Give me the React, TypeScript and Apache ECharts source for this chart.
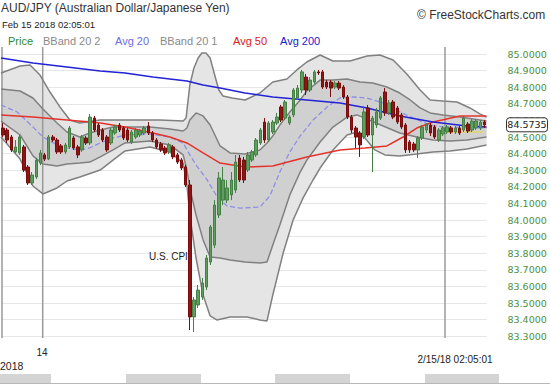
import React, { useEffect, useRef } from "react";
import * as echarts from "echarts";

// OHLC candles: [open, close, low, high]
const candles: number[][] = [
  [84.554, 84.512, 84.5, 84.584], [84.542, 84.482, 84.464, 84.554], [84.5, 84.422, 84.41, 84.512],
  [84.41, 84.44, 84.404, 84.482], [84.404, 84.5, 84.392, 84.512], [84.44, 84.301, 84.289, 84.452],
  [84.319, 84.223, 84.211, 84.331], [84.223, 84.271, 84.211, 84.289], [84.259, 84.361, 84.247, 84.373],
  [84.343, 84.404, 84.331, 84.422], [84.392, 84.367, 84.355, 84.404], [84.367, 84.5, 84.361, 84.512],
  [84.5, 84.482, 84.47, 84.512], [84.482, 84.41, 84.398, 84.494], [84.446, 84.41, 84.398, 84.458],
  [84.41, 84.452, 84.398, 84.464], [84.44, 84.554, 84.428, 84.566], [84.494, 84.434, 84.422, 84.506],
  [84.44, 84.392, 84.373, 84.452], [84.422, 84.5, 84.41, 84.512], [84.494, 84.464, 84.452, 84.506],
  [84.464, 84.62, 84.452, 84.639], [84.614, 84.542, 84.53, 84.627], [84.572, 84.512, 84.5, 84.584],
  [84.542, 84.482, 84.47, 84.554], [84.5, 84.422, 84.41, 84.512], [84.464, 84.542, 84.452, 84.554],
  [84.524, 84.56, 84.512, 84.572], [84.572, 84.542, 84.53, 84.584], [84.554, 84.494, 84.482, 84.566],
  [84.542, 84.482, 84.47, 84.554], [84.47, 84.53, 84.458, 84.542], [84.5, 84.542, 84.488, 84.554],
  [84.512, 84.536, 84.5, 84.548], [84.524, 84.554, 84.512, 84.566], [84.566, 84.524, 84.512, 84.59],
  [84.524, 84.482, 84.47, 84.536], [84.482, 84.44, 84.428, 84.494], [84.458, 84.422, 84.41, 84.47],
  [84.434, 84.404, 84.392, 84.446], [84.41, 84.452, 84.398, 84.464], [84.44, 84.38, 84.367, 84.452],
  [84.392, 84.349, 84.337, 84.404], [84.361, 84.313, 84.301, 84.373], [84.319, 84.211, 84.199, 84.331],
  [84.211, 83.416, 83.337, 84.241], [83.416, 83.518, 83.325, 83.536], [83.488, 83.578, 83.47, 83.608],
  [83.536, 83.62, 83.518, 83.651], [83.596, 83.771, 83.578, 83.789], [83.747, 83.958, 83.729, 83.97],
  [83.849, 84.09, 83.831, 84.12], [84.03, 84.253, 84.012, 84.289], [84.12, 84.241, 84.09, 84.319],
  [84.12, 84.193, 84.102, 84.241], [84.151, 84.241, 84.12, 84.289], [84.181, 84.349, 84.163, 84.392],
  [84.373, 84.241, 84.229, 84.392], [84.361, 84.241, 84.223, 84.38], [84.301, 84.392, 84.289, 84.41],
  [84.361, 84.41, 84.349, 84.422], [84.392, 84.482, 84.38, 84.494], [84.464, 84.542, 84.452, 84.554],
  [84.59, 84.482, 84.464, 84.614], [84.482, 84.584, 84.47, 84.596], [84.53, 84.59, 84.518, 84.602],
  [84.584, 84.62, 84.572, 84.645], [84.681, 84.602, 84.59, 84.693], [84.614, 84.711, 84.602, 84.723],
  [84.584, 84.62, 84.572, 84.633], [84.633, 84.783, 84.62, 84.795], [84.735, 84.795, 84.723, 84.813],
  [84.783, 84.892, 84.765, 84.904], [84.861, 84.783, 84.753, 84.88], [84.783, 84.843, 84.771, 84.861],
  [84.831, 84.892, 84.819, 84.904], [84.892, 84.886, 84.874, 84.904], [84.892, 84.801, 84.789, 84.904],
  [84.831, 84.801, 84.789, 84.843], [84.831, 84.795, 84.741, 84.843], [84.801, 84.825, 84.789, 84.837],
  [84.825, 84.795, 84.783, 84.837], [84.801, 84.741, 84.729, 84.813], [84.741, 84.62, 84.608, 84.753],
  [84.62, 84.542, 84.524, 84.633], [84.554, 84.5, 84.434, 84.566], [84.524, 84.452, 84.38, 84.536],
  [84.5, 84.651, 84.488, 84.687], [84.675, 84.512, 84.5, 84.693], [84.512, 84.614, 84.289, 84.627],
  [84.572, 84.651, 84.554, 84.675], [84.614, 84.735, 84.602, 84.747], [84.771, 84.645, 84.627, 84.795],
  [84.645, 84.705, 84.633, 84.723], [84.711, 84.62, 84.608, 84.723], [84.675, 84.59, 84.578, 84.687],
  [84.633, 84.56, 84.548, 84.645], [84.572, 84.422, 84.404, 84.584], [84.47, 84.422, 84.404, 84.482],
  [84.458, 84.422, 84.41, 84.47], [84.422, 84.494, 84.373, 84.506], [84.494, 84.56, 84.482, 84.572],
  [84.542, 84.572, 84.524, 84.584], [84.572, 84.524, 84.506, 84.584], [84.56, 84.5, 84.488, 84.572],
  [84.482, 84.542, 84.47, 84.554], [84.518, 84.554, 84.506, 84.566], [84.53, 84.56, 84.518, 84.572],
  [84.554, 84.53, 84.518, 84.566], [84.53, 84.554, 84.518, 84.566], [84.554, 84.524, 84.512, 84.566],
  [84.542, 84.614, 84.53, 84.627], [84.578, 84.536, 84.524, 84.59], [84.542, 84.596, 84.53, 84.608],
  [84.554, 84.596, 84.542, 84.608], [84.554, 84.59, 84.542, 84.602], [84.59, 84.5735, 84.554, 84.602],
];
const categories = candles.map((_, i) => String(i));
const lastClose = 84.5735;

// Bollinger bands and averages: [bar position, price]
const upper2 = [[-0.5,84.886],[4.1,84.928],[6.5,84.934],[8.9,84.873],[11.3,84.771],[13.7,84.681],[16.1,84.602],[18.5,84.584],[23.4,84.602],[30.6,84.602],[37.8,84.602],[43.4,84.596],[44.1,84.614],[45.0,84.813],[46.0,84.916],[47.0,84.976],[47.9,85.006],[48.9,85.006],[49.9,84.976],[50.8,84.892],[52.0,84.783],[53.0,84.747],[55.2,84.735],[58.3,84.723],[61.9,84.765],[65.0,84.831],[68.4,84.849],[70.8,84.904],[73.2,84.952],[76.4,84.994],[79.5,84.958],[83.6,84.958],[87.7,84.988],[90.8,84.994],[94.0,84.964],[97.3,84.88],[100.5,84.783],[102.9,84.723],[106.0,84.717],[109.4,84.711],[112.5,84.675],[114.9,84.639],[116.5,84.62]];
const upper1 = [[-0.5,84.789],[4.1,84.777],[7.2,84.735],[9.6,84.669],[13.0,84.584],[15.4,84.53],[18.5,84.5],[20.9,84.524],[23.4,84.542],[26.5,84.56],[29.4,84.56],[35.4,84.56],[40.2,84.548],[43.4,84.536],[44.3,84.554],[45.0,84.602],[46.5,84.645],[48.2,84.627],[49.9,84.572],[52.3,84.446],[54.7,84.404],[58.3,84.398],[61.9,84.422],[63.6,84.464],[65.0,84.506],[66.7,84.572],[69.1,84.651],[71.6,84.723],[73.2,84.777],[76.4,84.843],[79.5,84.843],[82.9,84.849],[86.0,84.831],[89.1,84.825],[92.5,84.801],[95.6,84.765],[98.1,84.723],[100.5,84.675],[102.9,84.645],[106.0,84.633],[110.1,84.62],[116.5,84.596]];
const avg20 = [[-0.5,84.693],[3.4,84.651],[7.2,84.56],[9.6,84.5],[13.0,84.452],[15.4,84.434],[18.5,84.422],[20.9,84.434],[23.4,84.464],[26.5,84.494],[29.4,84.512],[35.4,84.518],[40.2,84.5],[43.4,84.464],[45.0,84.392],[46.7,84.325],[49.2,84.241],[51.6,84.139],[54.0,84.084],[57.1,84.072],[61.9,84.078],[64.3,84.145],[66.7,84.289],[69.1,84.41],[71.6,84.506],[74.7,84.602],[78.1,84.681],[81.2,84.735],[84.3,84.741],[87.7,84.735],[91.6,84.705],[95.6,84.651],[98.8,84.614],[102.9,84.572],[106.0,84.56],[116.5,84.554]];
const lower1 = [[-0.5,84.596],[4.1,84.512],[7.2,84.386],[9.6,84.337],[13.0,84.325],[15.4,84.337],[18.5,84.343],[20.9,84.349],[23.4,84.38],[26.5,84.422],[29.4,84.464],[35.4,84.476],[40.2,84.452],[43.4,84.392],[44.3,84.301],[45.0,84.193],[46.5,84.03],[48.2,83.88],[49.9,83.777],[52.3,83.771],[54.7,83.759],[58.3,83.747],[61.9,83.741],[63.6,83.747],[65.0,83.849],[66.7,83.97],[69.1,84.151],[71.6,84.289],[73.2,84.361],[76.4,84.47],[79.5,84.56],[82.9,84.62],[85.3,84.633],[87.7,84.608],[91.6,84.566],[95.6,84.524],[99.7,84.5],[103.6,84.482],[107.7,84.476],[111.8,84.482],[116.5,84.5]];
const lower2 = [[-0.5,84.5],[4.1,84.367],[7.2,84.205],[9.6,84.157],[13.0,84.193],[15.4,84.235],[18.5,84.259],[23.4,84.301],[26.5,84.361],[29.4,84.416],[35.4,84.44],[40.2,84.41],[43.4,84.343],[44.3,84.211],[45.0,84.03],[46.5,83.771],[48.2,83.548],[49.9,83.422],[51.5,83.398],[54.7,83.416],[58.8,83.416],[61.9,83.398],[63.6,83.392],[65.0,83.548],[67.5,83.801],[69.9,84.0],[72.3,84.133],[74.7,84.241],[76.4,84.313],[79.5,84.422],[82.9,84.512],[85.3,84.53],[87.2,84.494],[89.6,84.422],[92.0,84.392],[95.6,84.386],[99.7,84.398],[103.6,84.41],[107.7,84.416],[111.8,84.428],[116.5,84.452]];
const avg50 = [[-0.5,84.633],[7.2,84.62],[15.4,84.602],[23.4,84.584],[29.4,84.56],[36.1,84.524],[40.2,84.5],[44.3,84.464],[48.2,84.404],[52.3,84.343],[58.3,84.319],[65.0,84.325],[73.2,84.38],[81.2,84.422],[87.2,84.434],[92.5,84.446],[96.4,84.5],[99.7,84.554],[103.6,84.59],[110.1,84.627],[116.5,84.627]];
const avg200 = [[-0.5,84.976],[7.2,84.946],[15.4,84.922],[23.4,84.898],[29.4,84.886],[36.1,84.861],[44.3,84.837],[48.2,84.813],[52.3,84.795],[58.3,84.765],[65.0,84.741],[73.2,84.723],[81.2,84.705],[87.7,84.675],[95.6,84.627],[103.6,84.59],[111.8,84.566],[116.5,84.56]];
const prevCloseLine = [[105.3,84.53],[115.6,84.53]];
const separators = [-0.26, 9.55, 106.5];
const sepTop = 85.042;
const sepBottom = 83.289;

const yMin = 83.2;
const yMax = 85.1;
const yStep = 0.1;

const legendItems = [
  { text: "Price", x: 8, color: "#2e8b2e" },
  { text: "BBand 20 2", x: 43, color: "#8a8a8a" },
  { text: "Avg 20", x: 115, color: "#6d6de0" },
  { text: "BBand 20 1", x: 160, color: "#8a8a8a" },
  { text: "Avg 50", x: 233, color: "#d42020" },
  { text: "Avg 200", x: 280, color: "#2020c8" },
];

const FONT = '"Liberation Sans", Arial, sans-serif';

function bandPolygon(upper: number[][], lower: number[][], fill: string, z: number) {
  return {
    type: "custom",
    xAxisIndex: 1,
    yAxisIndex: 0,
    z,
    silent: true,
    data: [[0, 84.5]],
    renderItem: (_params: any, api: any) => {
      const pts = upper.map((p) => api.coord(p)).concat(lower.slice().reverse().map((p) => api.coord(p)));
      return { type: "polygon", shape: { points: pts }, style: { fill } };
    },
  };
}

function bandLine(data: number[][], color: string, width: number, z: number, type: string = "solid") {
  return {
    type: "line",
    xAxisIndex: 1,
    yAxisIndex: 0,
    data,
    z,
    symbol: "none",
    silent: true,
    lineStyle: { color, width, type },
  };
}

export default function App() {
  const ref = useRef<HTMLDivElement>(null);
  useEffect(() => {
    document.body.style.margin = "0";
    const chart = echarts.init(ref.current!, null, { renderer: "svg" });
    const option: any = {
      animation: false,
      grid: { left: 1, right: 63.5, top: 37.4, bottom: 31.2, containLabel: false, outerBoundsMode: "none" },
      xAxis: [
        {
          type: "category",
          data: categories,
          boundaryGap: true,
          axisLine: { show: false },
          axisTick: { show: false },
          axisLabel: { show: false },
          splitLine: { show: false },
        },
        { type: "value", min: -0.5, max: candles.length - 0.5, show: false },
      ],
      yAxis: {
        type: "value",
        position: "right",
        min: yMin,
        max: yMax,
        interval: yStep,
        axisLine: { show: false },
        axisTick: { show: false },
        axisLabel: {
          margin: 21,
          color: "#4a8f3f",
          fontFamily: '"DejaVu Sans", Verdana, sans-serif',
          fontSize: 9.5,
          formatter: (v: number) => (v < 83.25 || v > 85.05 ? "" : v.toFixed(4)),
        },
        splitLine: { show: true, showMinLine: false, showMaxLine: false, lineStyle: { color: "#e6e6e6", width: 1 } },
      },
      series: [
        bandPolygon(upper2, lower2, "#e5e5e5", 1),
        bandPolygon(upper1, lower1, "#d0d0d0", 1.1),
        ...separators.map((x) => bandLine([[x, sepTop], [x, sepBottom]], "#9a9a9a", 1.5, 1.5)),
        bandLine(upper2, "#808080", 1.5, 2),
        bandLine(lower2, "#808080", 1.5, 2),
        bandLine(upper1, "#808080", 1.5, 2),
        bandLine(lower1, "#808080", 1.5, 2),
        bandLine(avg20, "#8f8fe6", 1.3, 2.2, "dashed"),
        bandLine(prevCloseLine, "#e2d66a", 1.5, 2.3),
        bandLine(avg50, "#e3342c", 1.5, 2.4),
        bandLine(avg200, "#2222d6", 1.5, 2.5),
        {
          type: "candlestick",
          xAxisIndex: 0,
          yAxisIndex: 0,
          data: candles,
          z: 3,
          barWidth: 3,
          silent: true,
          itemStyle: {
            color: "#5e9e5e",
            color0: "#8c1616",
            borderColor: "#447f44",
            borderColor0: "#7a0c0c",
            borderWidth: 1,
          },
        },
      ],
    };
    chart.setOption(option);
    const py = chart.convertToPixel({ yAxisIndex: 0 }, lastClose) as number;
    const graphic: any[] = [
      { type: "text", x: 1, y: 2, style: { text: "AUD/JPY (Australian Dollar/Japanese Yen)", fill: "#333", font: `12px ${FONT}`, verticalAlign: "top" } },
      { type: "text", x: 2, y: 24, style: { text: "Feb 15 2018 02:05:01", fill: "#222", font: `9.5px ${FONT}`, verticalAlign: "middle" } },
      { type: "text", x: 417, y: 15, style: { text: "© FreeStockCharts.com", fill: "#333", font: `12px ${FONT}`, verticalAlign: "middle" } },
      ...legendItems.map((l) => ({ type: "text", x: l.x, y: 41, style: { text: l.text, fill: l.color, font: `11px ${FONT}`, verticalAlign: "middle" } })),
      { type: "text", x: 149, y: 256, style: { text: "U.S. CPI", fill: "#222", font: `10px ${FONT}`, verticalAlign: "middle" } },
      { type: "text", x: 42, y: 352, style: { text: "14", fill: "#222", font: `10px ${FONT}`, align: "center", verticalAlign: "middle" } },
      { type: "text", x: 0, y: 366, style: { text: "2018", fill: "#222", font: `10.5px ${FONT}`, verticalAlign: "middle" } },
      { type: "text", x: 455, y: 359, style: { text: "2/15/18 02:05:01", fill: "#222", font: `10px ${FONT}`, align: "center", verticalAlign: "middle" } },
      { type: "rect", shape: { x: 0, y: 374, width: 51, height: 10 }, style: { fill: "#d4d4d4" } },
      { type: "rect", shape: { x: 126, y: 374, width: 75, height: 10 }, style: { fill: "#d4d4d4" } },
      { type: "rect", shape: { x: 275, y: 374, width: 75, height: 10 }, style: { fill: "#d4d4d4" } },
      { type: "rect", shape: { x: 425, y: 374, width: 74, height: 10 }, style: { fill: "#d4d4d4" } },
      { type: "line", shape: { x1: 0, y1: 383.5, x2: 550, y2: 383.5 }, style: { stroke: "#b8b8b8", lineWidth: 1 } },
      { type: "rect", shape: { x: 506.5, y: py - 7, width: 41, height: 14, r: 3 }, style: { fill: "#fff", stroke: "#333", lineWidth: 1 }, z: 10 },
      { type: "text", x: 527, y: py, z: 11, style: { text: lastClose.toFixed(4), fill: "#222", font: `9.5px "DejaVu Sans", Verdana, sans-serif`, align: "center", verticalAlign: "middle" } },
    ];
    chart.setOption({ graphic });
    return () => chart.dispose();
  }, []);
  return <div ref={ref} style={{ width: 550, height: 384 }} />;
}
